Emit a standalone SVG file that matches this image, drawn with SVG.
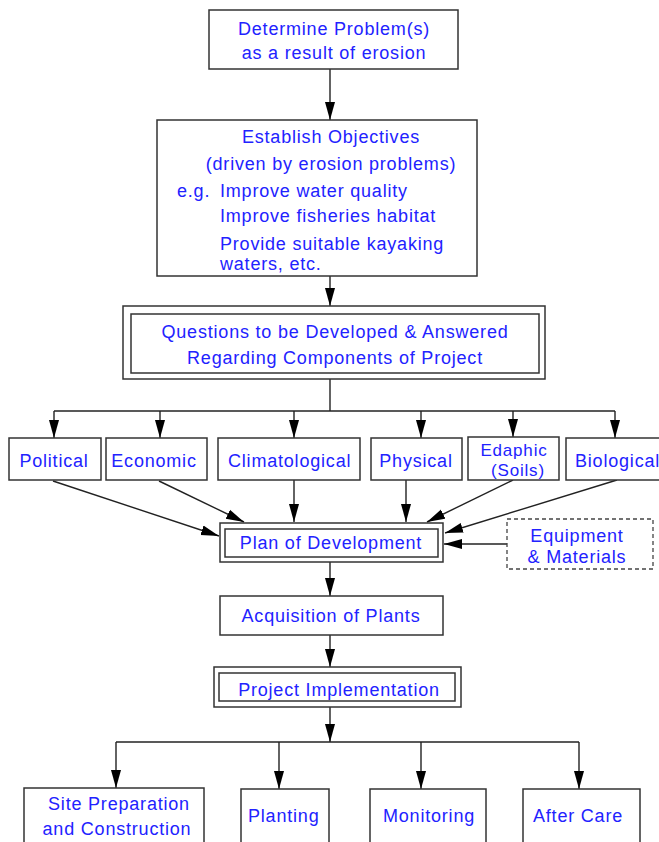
<svg xmlns="http://www.w3.org/2000/svg" width="659" height="842" viewBox="0 0 659 842">
<style>
.box{fill:#fff;stroke:#333;stroke-width:1.5}
.dash{fill:#fff;stroke:#444;stroke-width:1.3;stroke-dasharray:4,3}
.t{font-family:"Liberation Sans",Arial,sans-serif;font-size:18px;fill:#2222ff;letter-spacing:0.8px}
.s{font-size:17px}
.c{text-anchor:middle}
.ln{fill:none;stroke:#222;stroke-width:1.4}
</style>
<defs>
<marker id="ah" markerUnits="userSpaceOnUse" markerWidth="19" markerHeight="12" refX="18" refY="5.5" orient="auto">
<path d="M0,0.5 L18,5.5 L0,10.5 Z" fill="#000"/>
</marker>
</defs>
<rect width="659" height="842" fill="#fff"/>
<g id="connectors">
<line class="ln" x1="330" y1="69" x2="330" y2="120" marker-end="url(#ah)"/>
<line class="ln" x1="330" y1="276" x2="330" y2="306" marker-end="url(#ah)"/>
<line class="ln" x1="330" y1="379" x2="330" y2="411"/>
<polyline class="ln" points="54,411 615,411"/>
<line class="ln" x1="54" y1="411" x2="54" y2="438" marker-end="url(#ah)"/>
<line class="ln" x1="160" y1="411" x2="160" y2="438" marker-end="url(#ah)"/>
<line class="ln" x1="294" y1="411" x2="294" y2="438" marker-end="url(#ah)"/>
<line class="ln" x1="421" y1="411" x2="421" y2="438" marker-end="url(#ah)"/>
<line class="ln" x1="513" y1="411" x2="513" y2="437" marker-end="url(#ah)"/>
<line class="ln" x1="615" y1="411" x2="615" y2="438" marker-end="url(#ah)"/>
<line class="ln" x1="53" y1="481" x2="219" y2="536" marker-end="url(#ah)"/>
<line class="ln" x1="159" y1="481" x2="244" y2="522" marker-end="url(#ah)"/>
<line class="ln" x1="294" y1="480" x2="294" y2="522" marker-end="url(#ah)"/>
<line class="ln" x1="406" y1="480" x2="406" y2="522" marker-end="url(#ah)"/>
<line class="ln" x1="513" y1="480" x2="427" y2="522" marker-end="url(#ah)"/>
<line class="ln" x1="617" y1="480" x2="445" y2="533" marker-end="url(#ah)"/>
<line class="ln" x1="507" y1="544" x2="444" y2="544" marker-end="url(#ah)"/>
<line class="ln" x1="330" y1="562" x2="330" y2="596" marker-end="url(#ah)"/>
<line class="ln" x1="330" y1="635" x2="330" y2="667" marker-end="url(#ah)"/>
<line class="ln" x1="330" y1="707" x2="330" y2="742" marker-end="url(#ah)"/>
<polyline class="ln" points="116,742 579,742"/>
<line class="ln" x1="116" y1="742" x2="116" y2="788" marker-end="url(#ah)"/>
<line class="ln" x1="279" y1="742" x2="279" y2="789" marker-end="url(#ah)"/>
<line class="ln" x1="421" y1="742" x2="421" y2="789" marker-end="url(#ah)"/>
<line class="ln" x1="579" y1="742" x2="579" y2="789" marker-end="url(#ah)"/>
</g>
<g id="n-problem">
<rect class="box" x="209" y="10" width="249" height="59"/>
<text class="t c" x="334" y="35">Determine Problem(s)</text>
<text class="t c" x="334" y="59">as a result of erosion</text>
</g>
<g id="n-objectives">
<rect class="box" x="157" y="120" width="320" height="156"/>
<text class="t c" x="331" y="143">Establish Objectives</text>
<text class="t c" x="331" y="170">(driven by erosion problems)</text>
<text class="t" x="177" y="197">e.g.</text>
<text class="t" x="220" y="197">Improve water quality</text>
<text class="t" x="220" y="222">Improve fisheries habitat</text>
<text class="t" x="220" y="250">Provide suitable kayaking</text>
<text class="t" x="220" y="270">waters, etc.</text>
</g>
<g id="n-questions">
<rect class="box" x="123" y="306" width="422" height="73"/>
<rect class="box" x="131" y="314" width="408" height="59"/>
<text class="t c" x="335" y="338">Questions to be Developed &amp; Answered</text>
<text class="t c" x="335" y="364">Regarding Components of Project</text>
</g>
<g id="n-political">
<rect class="box" x="9" y="438" width="92" height="42"/>
<text class="t c" x="54" y="467">Political</text>
</g>
<g id="n-economic">
<rect class="box" x="106" y="438" width="101" height="42"/>
<text class="t c" x="154" y="467">Economic</text>
</g>
<g id="n-climatological">
<rect class="box" x="218" y="438" width="142" height="42"/>
<text class="t" x="228" y="467">Climatological</text>
</g>
<g id="n-physical">
<rect class="box" x="371" y="438" width="91" height="42"/>
<text class="t c" x="416" y="467">Physical</text>
</g>
<g id="n-edaphic">
<rect class="box" x="468" y="437" width="91" height="43"/>
<text class="t s c" x="514" y="456">Edaphic</text>
<text class="t s c" x="518" y="476">(Soils)</text>
</g>
<g id="n-biological">
<rect class="box" x="566" y="438" width="100" height="42"/>
<text class="t" x="575" y="467">Biological</text>
</g>
<g id="n-plan">
<rect class="box" x="220" y="523" width="223" height="39"/>
<rect class="box" x="225" y="529" width="213" height="28"/>
<text class="t c" x="331" y="549">Plan of Development</text>
</g>
<g id="n-equipment">
<rect class="dash" x="507" y="519" width="146" height="50"/>
<text class="t c" x="577" y="542">Equipment</text>
<text class="t c" x="577" y="563">&amp; Materials</text>
</g>
<g id="n-acquisition">
<rect class="box" x="220" y="596" width="223" height="39"/>
<text class="t c" x="331" y="622">Acquisition of Plants</text>
</g>
<g id="n-implementation">
<rect class="box" x="214" y="667" width="247" height="40"/>
<rect class="box" x="219" y="673" width="236" height="28"/>
<text class="t c" x="339" y="696">Project Implementation</text>
</g>
<g id="n-siteprep">
<rect class="box" x="24" y="788" width="180" height="60"/>
<text class="t c" x="119" y="810">Site Preparation</text>
<text class="t c" x="117" y="835">and Construction</text>
</g>
<g id="n-planting">
<rect class="box" x="241" y="789" width="88" height="60"/>
<text class="t" x="248" y="822">Planting</text>
</g>
<g id="n-monitoring">
<rect class="box" x="370" y="789" width="116" height="60"/>
<text class="t" x="383" y="822">Monitoring</text>
</g>
<g id="n-aftercare">
<rect class="box" x="523" y="789" width="117" height="60"/>
<text class="t" x="533" y="822">After Care</text>
</g>
</svg>
